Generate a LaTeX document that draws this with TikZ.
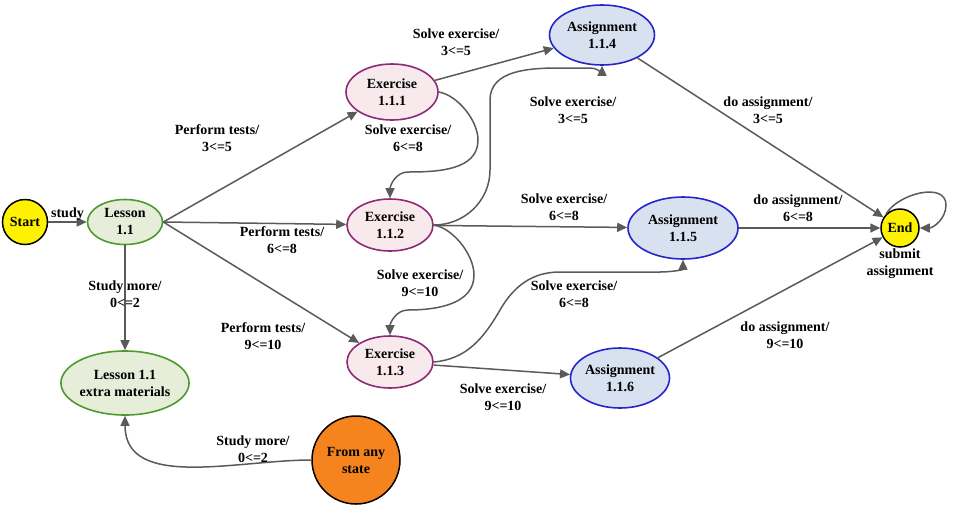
\documentclass[tikz,border=0pt]{standalone}
\usepackage{fontspec}
\setmainfont{Liberation Serif}
\usetikzlibrary{positioning}
\usetikzlibrary{shapes.geometric}
\usetikzlibrary{arrows.meta}
\definecolor{lessongreen}{HTML}{4E9A2E}
\definecolor{lessonfill}{HTML}{E6EDD9}
\definecolor{exline}{HTML}{8E2A78}
\definecolor{exfill}{HTML}{F8E9EC}
\definecolor{asline}{HTML}{2626C8}
\definecolor{asfill}{HTML}{D7E1EF}
\definecolor{anyfill}{HTML}{F5841F}
\definecolor{edgegray}{HTML}{5A5A5A}

\begin{document}
\begin{tikzpicture}[x=1pt,y=-1pt,
                          font=\fontsize{14}{17}\selectfont\bfseries,
                          endnode/.style={circle, draw, line width=1.5pt, fill=yellow, inner sep=0pt},
                          lessonnode/.style={ellipse, draw=lessongreen, fill=lessonfill, line width=1.6pt, align=center, inner sep=0pt},
                          exnode/.style={ellipse, draw=exline, fill=exfill, line width=1.6pt, align=center, inner sep=0pt, minimum width=86, minimum height=52},
                          asnode/.style={ellipse, draw=asline, fill=asfill, line width=1.6pt, align=center, inner sep=0pt},
                          edge/.style={draw=edgegray, line width=1.5pt, -{Triangle[length=10pt,width=9pt]}},
                          lbl/.style={align=center, inner sep=1pt},
                      ]
                      \useasboundingbox (0,0) rectangle (960,515);
                      % Nodes
                      \node[endnode, minimum size=45]   (start)     at (25,222)     {Start};
                      \node[lessonnode, minimum width=75, minimum height=45]   (lesson)  at (125,222)  {Lesson\\1.1};
                      \node[lessonnode, minimum width=113, minimum height=64]  (extra)   at (125,383)  {Lesson 1.1\\extra materials};
                      \node[circle, draw, line width=1.5pt, fill=anyfill, align=center, minimum size=88, inner sep=0pt] (any) at (356,460) {From any\\state};

                      \node[exnode, minimum width=92, minimum height=56]  (ex_1)  at (392,92)   {Exercise\\1.1.1};
                      \node[exnode]  (ex_2)  at (390,225)  {Exercise\\1.1.2};
                      \node[exnode]  (ex_3)  at (390,362)  {Exercise\\1.1.3};

                      \node[asnode, minimum width=105, minimum height=60]  (as_4)  at (602,35)   {Assignment\\1.1.4};
                      \node[asnode, minimum width=110, minimum height=62]  (as_5)  at (683,228)  {Assignment\\1.1.5};
                      \node[asnode, minimum width=95, minimum height=60]   (as_6)  at (620,378)  {Assignment\\1.1.6};

                      \node[endnode, minimum size=38]   (end)   at (900,228)  {End};
                      \node[lbl, below=0pt of end] {submit\\assignment};

                      %Lines
                      \draw[edge] (start) -- node[lbl, above] {study} (lesson);
                      \draw[edge] (lesson.east) -- (ex_1);
                      \draw[edge] (lesson.east) -- (ex_2);
                      \draw[edge] (lesson.east) -- (ex_3);
                      \draw[edge] (lesson) -- (extra);
                      \draw[edge] (any.west) to[out=180, in=-90] (extra.south);

                      \draw[edge] (ex_1) -- (as_4);
                      \draw[edge] (ex_1.east) to[out=-10, in=90, looseness=0.8] (478,140) to[out=-90, in=0] (408,172) to[out=180, in=90] (ex_2.north);
                      \draw[edge] (ex_2.east) to[out=0, in=-90] (490,170) -- (490,100) to[out=90, in=180] (560,68) -- (590,68) to[out=0, in=-90] (as_4.south);
                      \draw[edge] (ex_2) -- (as_5);
                      \draw[edge] (ex_2.east) to[out=-10, in=90, looseness=0.8] (474,275) to[out=-90, in=0] (408,310) to[out=180, in=90] (ex_3.north);
                      \draw[edge] (ex_3.east) to[out=5, in=-120] (500,310) to[out=60, in=180] (560,272) -- (660,272) to[out=0, in=-90] (as_5.south);
                      \draw[edge] (ex_3) -- (as_6);

                      \draw[edge] (as_4) -- (end);
                      \draw[edge] (as_5) -- (end);
                      \draw[edge] (as_6) -- (end);
                      \draw[edge] (end.north west) to[out=60, in=90] (946,205) to[out=-90, in=0] (end.east);

                      %Labels
                      \node[lbl] at (217,138) {Perform tests/\\3<=5};
                      \node[lbl] at (282,240) {Perform tests/\\6<=8};
                      \node[lbl] at (263,336) {Perform tests/\\9<=10};
                      \node[lbl] at (125,294) {Study more/\\0<=2};
                      \node[lbl] at (253,449) {Study more/\\0<=2};
                      \node[lbl] at (456,42)  {Solve exercise/\\3<=5};
                      \node[lbl] at (408,138) {Solve exercise/\\6<=8};
                      \node[lbl] at (573,110) {Solve exercise/\\3<=5};
                      \node[lbl] at (564,207) {Solve exercise/\\6<=8};
                      \node[lbl] at (420,283) {Solve exercise/\\9<=10};
                      \node[lbl] at (574,294) {Solve exercise/\\6<=8};
                      \node[lbl] at (503,397) {Solve exercise/\\9<=10};
                      \node[lbl] at (768,110) {do assignment/\\3<=5};
                      \node[lbl] at (798,208) {do assignment/\\6<=8};
                      \node[lbl] at (785,335) {do assignment/\\9<=10};
                  \end{tikzpicture}
\end{document}
